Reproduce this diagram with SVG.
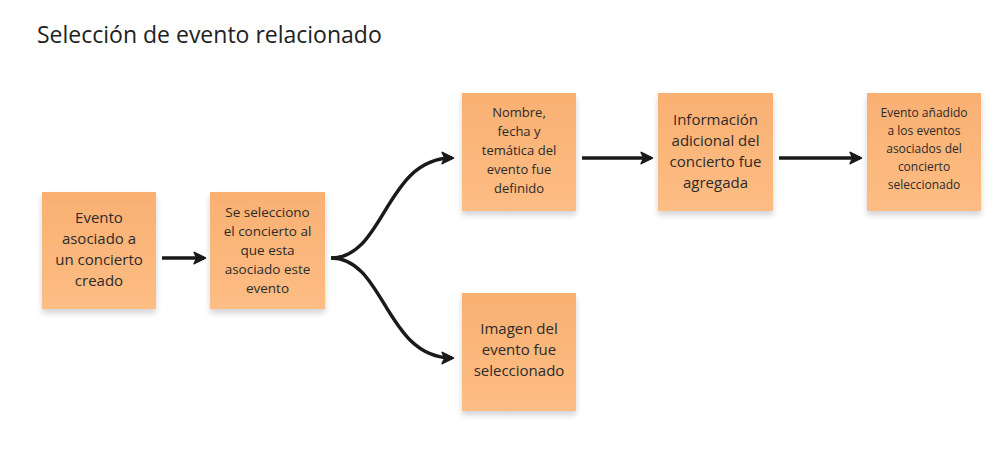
<svg xmlns="http://www.w3.org/2000/svg" width="1005" height="460" viewBox="0 0 1005 460">
<defs>
<linearGradient id="g" x1="0" y1="0" x2="0" y2="1">
<stop offset="0" stop-color="#f9b072"/>
<stop offset="1" stop-color="#fdbd84"/>
</linearGradient>
<filter id="sh" x="-20%" y="-20%" width="140%" height="150%">
<feGaussianBlur in="SourceAlpha" stdDeviation="3"/>
<feOffset dy="4"/>
<feComponentTransfer><feFuncA type="linear" slope="0.18"/></feComponentTransfer>
<feMerge><feMergeNode/><feMergeNode in="SourceGraphic"/></feMerge>
</filter>
<marker id="ah" viewBox="0 0 10 10" refX="8" refY="5" markerWidth="4" markerHeight="4" orient="auto" markerUnits="strokeWidth">
<path d="M1,1 L9,5 L1,9 L3,5 Z" fill="#1a1a1a" stroke="#1a1a1a" stroke-width="1.2" stroke-linejoin="round"/>
</marker>
</defs>
<style>
.n{fill:url(#g);filter:url(#sh)}
.t{font-family:"Open Sans","Noto Sans",sans-serif;fill:#2b2b2b;text-anchor:middle}
.c{fill:none;stroke:#1a1a1a;stroke-width:3.5;marker-end:url(#ah)}
</style>
<rect width="1005" height="460" fill="#ffffff"/>
<text x="37" y="43" font-family="'Open Sans','Noto Sans',sans-serif" font-size="23" fill="#222">Selección de evento relacionado</text>
<g id="connectors">
<path class="c" d="M162,258 L204,258"/>
<path class="c" d="M331,258 C385,258 385,158 452,158"/>
<path class="c" d="M331,258 C385,258 385,358 452,358"/>
<path class="c" d="M582,158 L651,158"/>
<path class="c" d="M779,158 L860,158"/>
</g>
<g id="n1"><rect class="n" x="42" y="192" width="114" height="117"/>
<text class="t" font-size="15"><tspan x="99" y="223">Evento</tspan><tspan x="99" y="244">asociado a</tspan><tspan x="99" y="265">un concierto</tspan><tspan x="99" y="286">creado</tspan></text></g>
<g id="n2"><rect class="n" x="210" y="192" width="115" height="117"/>
<text class="t" font-size="13.5"><tspan x="267.5" y="217">Se selecciono</tspan><tspan x="267.5" y="236">el concierto al</tspan><tspan x="267.5" y="255">que esta</tspan><tspan x="267.5" y="274">asociado este</tspan><tspan x="267.5" y="293">evento</tspan></text></g>
<g id="n3"><rect class="n" x="462" y="93" width="114" height="118"/>
<text class="t" font-size="13"><tspan x="519" y="117">Nombre,</tspan><tspan x="519" y="136">fecha y</tspan><tspan x="519" y="155">temática del</tspan><tspan x="519" y="174">evento fue</tspan><tspan x="519" y="193">definido</tspan></text></g>
<g id="n4"><rect class="n" x="462" y="293" width="114" height="118"/>
<text class="t" font-size="15"><tspan x="519" y="334">Imagen del</tspan><tspan x="519" y="355">evento fue</tspan><tspan x="519" y="376">seleccionado</tspan></text></g>
<g id="n5"><rect class="n" x="658" y="93" width="115" height="118"/>
<text class="t" font-size="15"><tspan x="715.5" y="125">Información</tspan><tspan x="715.5" y="146">adicional del</tspan><tspan x="715.5" y="167">concierto fue</tspan><tspan x="715.5" y="188">agregada</tspan></text></g>
<g id="n6"><rect class="n" x="867" y="93" width="114" height="118"/>
<text class="t" font-size="12"><tspan x="924" y="117">Evento añadido</tspan><tspan x="924" y="135">a los eventos</tspan><tspan x="924" y="153">asociados del</tspan><tspan x="924" y="171">concierto</tspan><tspan x="924" y="189">seleccionado</tspan></text></g>
</svg>
